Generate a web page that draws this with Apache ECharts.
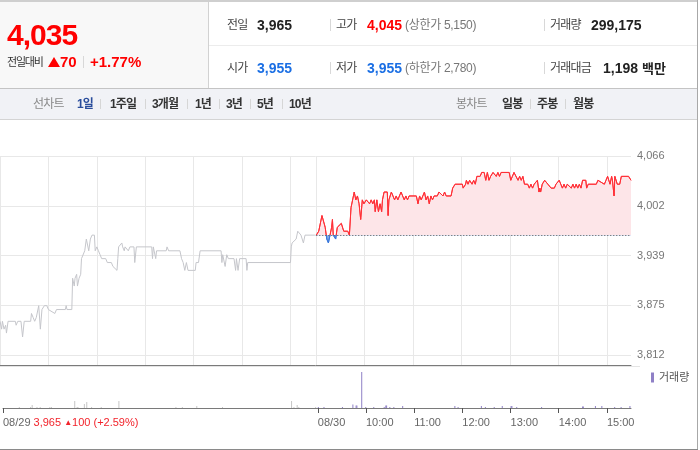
<!DOCTYPE html>
<html><head><meta charset="utf-8">
<script src="https://cdn.jsdelivr.net/npm/echarts@6/dist/echarts.min.js"></script>
<style>
body{margin:0;width:700px;height:450px;overflow:hidden;background:#fff;font-family:"Liberation Sans",Arial,"Noto Sans CJK KR",sans-serif;}
#chart{position:absolute;left:0;top:0;width:700px;height:450px;}
#hdr{position:absolute;left:0;top:0;width:700px;height:121px;z-index:2;}
.t{position:absolute;white-space:nowrap;line-height:20px;height:20px;}
.lb{font-size:12px;color:#444;letter-spacing:-0.8px;}
.v{font-size:14px;font-weight:bold;color:#222;}
.red{color:#f00;}
.blue{color:#1b6fe4;}
.pr{font-size:12px;color:#777;letter-spacing:-0.3px;}
.dv{position:absolute;width:1px;height:12px;background:#d8d8d8;}
.nv{font-size:12px;font-weight:bold;color:#333;letter-spacing:-0.8px;}
.ng{font-size:12px;color:#888;letter-spacing:-0.8px;}
.nd{position:absolute;width:1px;height:10px;background:#d6d6d6;top:99px;}
</style></head>
<body>
<div id="chart"></div>
<div id="hdr">
  <div style="position:absolute;left:0;top:0;width:698px;height:2px;background:#cfcfcf;"></div>
  <div style="position:absolute;left:0;top:2px;width:208px;height:86px;background:#f8f8f8;"></div>
  <div style="position:absolute;left:208px;top:2px;width:1px;height:86px;background:#d2d2d2;"></div>
  <div style="position:absolute;left:209px;top:45px;width:489px;height:1px;background:#ececec;"></div>
  <div style="position:absolute;left:0;top:88px;width:698px;height:1px;background:#c4c4c4;"></div>
  <div style="position:absolute;left:0;top:89px;width:698px;height:30px;background:#f1f2f6;"></div>
  <div style="position:absolute;left:0;top:119px;width:698px;height:1px;background:#d4d4d4;"></div>

  <span class="t red" style="left:7px;top:20px;font-size:30px;line-height:30px;height:30px;font-weight:bold;letter-spacing:-1px;">4,035</span>
  <span class="t" style="left:7px;top:52px;font-size:11px;color:#333;letter-spacing:-1.2px;">전일대비</span>
  <i style="position:absolute;left:48px;top:57px;width:0;height:0;border-left:6px solid transparent;border-right:6px solid transparent;border-bottom:10px solid #f00;"></i>
  <span class="t red" style="left:60px;top:52px;font-size:15px;font-weight:bold;">70</span>
  <i class="dv" style="left:83px;top:56px;"></i>
  <span class="t red" style="left:90px;top:52px;font-size:15px;font-weight:bold;">+1.77%</span>

  <span class="t lb" style="left:227px;top:15px;">전일</span>
  <span class="t v" style="left:257px;top:15px;">3,965</span>
  <i class="dv" style="left:330px;top:19px;"></i>
  <span class="t lb" style="left:336px;top:15px;">고가</span>
  <span class="t v red" style="left:367px;top:15px;">4,045</span>
  <span class="t pr" style="left:405px;top:15px;">(상한가 5,150)</span>
  <i class="dv" style="left:544px;top:19px;"></i>
  <span class="t lb" style="left:550px;top:15px;">거래량</span>
  <span class="t v" style="left:591px;top:15px;">299,175</span>

  <span class="t lb" style="left:227px;top:58px;">시가</span>
  <span class="t v blue" style="left:257px;top:58px;">3,955</span>
  <i class="dv" style="left:330px;top:62px;"></i>
  <span class="t lb" style="left:336px;top:58px;">저가</span>
  <span class="t v blue" style="left:367px;top:58px;">3,955</span>
  <span class="t pr" style="left:405px;top:58px;">(하한가 2,780)</span>
  <i class="dv" style="left:544px;top:62px;"></i>
  <span class="t lb" style="left:550px;top:58px;">거래대금</span>
  <span class="t v" style="left:603px;top:58px;">1,198 <span style="font-size:13px;">백만</span></span>

  <span class="t ng" style="left:33px;top:94px;">선차트</span>
  <span class="t nv" style="left:77px;top:94px;color:#2a4d9c;">1일</span>
  <i class="nd" style="left:100px;"></i>
  <span class="t nv" style="left:110px;top:94px;">1주일</span>
  <i class="nd" style="left:145px;"></i>
  <span class="t nv" style="left:152px;top:94px;">3개월</span>
  <i class="nd" style="left:187px;"></i>
  <span class="t nv" style="left:195px;top:94px;">1년</span>
  <i class="nd" style="left:219px;"></i>
  <span class="t nv" style="left:226px;top:94px;">3년</span>
  <i class="nd" style="left:250px;"></i>
  <span class="t nv" style="left:257px;top:94px;">5년</span>
  <i class="nd" style="left:282px;"></i>
  <span class="t nv" style="left:289px;top:94px;">10년</span>

  <span class="t ng" style="left:456px;top:94px;">봉차트</span>
  <span class="t nv" style="left:502px;top:94px;">일봉</span>
  <i class="nd" style="left:530px;"></i>
  <span class="t nv" style="left:537px;top:94px;">주봉</span>
  <i class="nd" style="left:565px;"></i>
  <span class="t nv" style="left:573px;top:94px;">월봉</span>
</div>
<div style="position:absolute;left:697px;top:0;width:1px;height:450px;background:#a8a8a8;z-index:3;"></div>
<div style="position:absolute;left:0;top:449px;width:698px;height:1px;background:#8a8a8a;z-index:3;"></div>
<script>
// ---- data ----
const prevDate = '08/29';
const todayDate = '08/30';
const prevClose = 3965;
const prevInfo = ['3,965', '100', '+2.59%'];
const yTickValues = [4066, 4002.5, 3939, 3875.5, 3812];
const yTickLabels = ['4,066', '4,002', '3,939', '3,875', '3,812'];
const xTimeLabels = ['10:00', '11:00', '12:00', '13:00', '14:00', '15:00'];

// [minute slot, price] — 08/29 (grey)
const prevLine = [[0,3855],[2,3845],[3,3855],[5,3845],[7,3850],[8,3840],[10,3855],[19,3855],[20,3850],[22,3855],[26,3855],[28,3835],[30,3855],[38,3855],[39,3865],[41,3860],[43,3855],[45,3860],[48,3875],[50,3845],[52,3870],[55,3875],[58,3875],[60,3870],[68,3865],[70,3870],[81,3870],[82,3875],[83,3870],[89,3870],[90,3910],[92,3900],[93,3910],[95,3915],[96,3900],[98,3910],[100,3915],[101,3935],[103,3935],[105,3945],[107,3960],[109,3960],[110,3945],[112,3960],[114,3965],[117,3965],[118,3945],[120,3950],[122,3945],[124,3940],[126,3935],[131,3935],[133,3930],[138,3930],[140,3925],[145,3920],[146,3935],[147,3950],[149,3950],[151,3955],[152,3950],[154,3945],[155,3950],[159,3945],[161,3950],[166,3950],[167,3930],[169,3950],[188,3950],[189,3935],[190,3950],[191,3950],[193,3935],[194,3945],[206,3945],[207,3950],[209,3945],[223,3945],[225,3935],[227,3930],[229,3920],[231,3930],[233,3920],[242,3920],[243,3930],[246,3930],[248,3945],[274,3945],[275,3930],[276,3940],[278,3940],[279,3925],[281,3940],[283,3935],[290,3935],[292,3920],[293,3935],[295,3920],[297,3935],[305,3935],[306,3920],[307,3930],[360,3930],[361,3950],[362,3955],[364,3955],[367,3960],[369,3970],[371,3970],[373,3965],[376,3955],[378,3965],[380,3965],[390,3965],[391,3965]];

// [minute slot, price] — 08/30 (today)
const todayLine = [[392,3965],[395,3970],[397,3970],[399,3990],[401,3990],[403,3975],[405,3960],[407,3955],[409,3955],[411,3975],[412,3985],[413,3965],[415,3965],[416,3960],[418,3975],[420,3975],[423,3980],[425,3980],[426,3970],[431,3970],[433,3965],[435,4000],[437,4000],[439,4020],[441,4010],[443,4015],[445,4005],[447,3985],[449,4010],[451,4005],[454,4010],[458,4005],[460,4010],[462,4005],[464,4010],[465,3995],[467,4010],[469,3995],[471,4005],[473,3995],[474,4010],[476,4020],[480,4020],[481,3990],[482,4010],[485,4020],[487,4020],[489,4010],[491,4015],[493,4010],[495,4015],[497,4020],[499,4015],[501,4010],[503,4015],[505,4010],[507,4015],[516,4015],[518,4005],[520,4015],[522,4010],[524,4015],[526,4020],[528,4010],[530,4015],[532,4005],[534,4015],[536,4010],[538,4015],[542,4015],[544,4020],[546,4020],[549,4015],[551,4020],[553,4015],[559,4015],[561,4025],[564,4030],[573,4030],[574,4025],[577,4030],[578,4035],[580,4030],[582,4035],[585,4030],[587,4035],[589,4030],[591,4040],[593,4040],[595,4040],[597,4045],[600,4045],[602,4035],[604,4045],[606,4035],[608,4040],[611,4045],[615,4040],[617,4045],[619,4040],[621,4045],[631,4045],[633,4035],[635,4040],[637,4045],[639,4045],[642,4035],[644,4040],[646,4035],[648,4040],[650,4030],[654,4030],[656,4025],[658,4030],[660,4025],[662,4030],[664,4030],[666,4035],[668,4020],[669,4025],[670,4020],[672,4030],[675,4035],[677,4035],[679,4030],[681,4030],[683,4025],[687,4025],[689,4030],[693,4035],[695,4030],[697,4025],[699,4030],[701,4025],[703,4030],[708,4025],[710,4030],[712,4025],[714,4030],[716,4025],[718,4030],[720,4025],[722,4035],[726,4035],[727,4025],[729,4030],[739,4030],[741,4035],[749,4030],[751,4035],[753,4040],[755,4040],[756,4030],[758,4040],[759,4035],[761,4015],[762,4040],[763,4040],[765,4030],[768,4030],[770,4040],[779,4040],[782,4035]];

// [minute slot, shares]
const prevVol = [[21,1400],[35,1400],[37,4500],[43,1400],[47,1400],[59,1400],[61,1400],[90,10500],[93,1400],[94,1400],[102,6000],[105,9000],[111,1400],[123,1400],[145,10500],[216,1400],[224,1400],[242,3000],[274,1400],[360,10500],[363,1400],[367,4500],[369,1400],[390,1400]];
const todayVol = [[392,1400],[399,1400],[422,1400],[435,5200],[439,3700],[440,3700],[446,54000],[451,1400],[461,1400],[474,1400],[476,3700],[477,3700],[481,1400],[486,1400],[497,3000],[562,3000],[566,1400],[595,3000],[600,1400],[611,1400],[621,3000],[632,3000],[633,3000],[639,1400],[670,1400],[721,2200],[722,2200],[737,3000],[745,3000],[761,1400],[769,1400],[780,3000]];

// ---- categories: minute slots 09:00..15:30 for each day + 1 separator slot ----
const xCats = [];
function pushDay(d) {
  for (let m = 0; m <= 390; m++) {
    const t = 540 + m;
    xCats.push(d + ' ' + String(Math.floor(t / 60)).padStart(2, '0') + ':' + String(t % 60).padStart(2, '0'));
  }
}
pushDay(prevDate); xCats.push('gap'); pushDay(todayDate);
const lastIdx = xCats.length - 1;
const todayStart = xCats.indexOf(todayDate + ' 09:00');

const isHour = v => v !== 'gap' && v.slice(-3) === ':00';
const isLabel = v => v === prevDate + ' 09:00' || v === todayDate + ' 09:00' ||
  (v.indexOf(todayDate) === 0 && xTimeLabels.indexOf(v.slice(6)) >= 0);

const FONT = "'Liberation Sans', Arial, 'Noto Sans CJK KR', sans-serif";
const yMin = yTickValues[4] - (yTickValues[0] - yTickValues[4]) * 10 / 199;
const RED = '#ff2f36', BLUE = '#3a78dc', PINK = '#fde5e8', LBLUE = '#7ea6e6';

const chart = echarts.init(document.getElementById('chart'));
const option = {
  animation: false,
  backgroundColor: '#fff',
  textStyle: { fontFamily: FONT },
  legend: {
    data: [{ name: '거래량', icon: 'rect' }],
    left: 651, top: 372, itemWidth: 3, itemHeight: 10, itemGap: 4, padding: 0,
    selectedMode: false,
    textStyle: { fontSize: 11, color: '#555', fontFamily: FONT }
  },
  grid: [
    { left: 0, top: 156, width: 631, height: 209 },
    { left: 0, top: 156, width: 631, height: 199 },
    { left: 0, top: 366, width: 631, height: 42 }
  ],
  xAxis: [
    { gridIndex: 0, type: 'category', data: xCats, boundaryGap: false,
      axisLine: { lineStyle: { color: '#7a7a7a', width: 1 } },
      axisTick: { show: false }, axisLabel: { show: false },
      splitLine: { show: true, interval: (i, v) => isHour(v), lineStyle: { color: '#e8e8e8' } } },
    { gridIndex: 1, type: 'value', show: false, min: 0, max: 1 },
    { gridIndex: 2, type: 'category', data: xCats, boundaryGap: false,
      axisLine: { lineStyle: { color: '#7a7a7a' } },
      axisTick: { show: true, interval: (i, v) => isLabel(v), length: 5, lineStyle: { color: '#555' } },
      splitLine: { show: false },
      axisLabel: {
        interval: (i, v) => isLabel(v), align: 'left', margin: 9, fontSize: 11, color: '#666',
        fontFamily: FONT,
        formatter: v => {
          if (v === prevDate + ' 09:00') return prevDate + ' {r|' + prevInfo[0] + ' }{t|▲}{r|' + prevInfo[1] + ' (' + prevInfo[2] + ')}';
          if (v === todayDate + ' 09:00') return todayDate;
          return v.slice(6);
        },
        rich: {
          r: { color: '#f2232b', fontSize: 11, fontFamily: FONT },
          t: { color: '#f2232b', fontSize: 8, fontFamily: FONT }
        }
      } }
  ],
  yAxis: [
    { gridIndex: 0, type: 'value', min: yMin, max: yTickValues[0], show: false, splitLine: { show: false } },
    { gridIndex: 1, type: 'value', position: 'right', min: yTickValues[4], max: yTickValues[0],
      interval: (yTickValues[0] - yTickValues[4]) / 4,
      axisLine: { show: false }, axisTick: { show: false },
      axisLabel: { margin: 6, fontSize: 11, color: '#777', fontFamily: FONT,
        formatter: v => {
          let best = 0;
          yTickValues.forEach((t, k) => { if (Math.abs(t - v) < Math.abs(yTickValues[best] - v)) best = k; });
          return yTickLabels[best];
        } },
      splitLine: { show: true, lineStyle: { color: '#e8e8e8' } } },
    { gridIndex: 2, type: 'value', min: 0, max: 63000, show: false, splitLine: { show: false } }
  ],
  series: [
    { name: 'prev', type: 'line', xAxisIndex: 0, yAxisIndex: 0, data: prevLine,
      symbol: 'none', silent: true, lineStyle: { color: '#c5c6cb', width: 1 }, itemStyle: { color: '#c5c6cb' } },
    { name: 'today', type: 'line', xAxisIndex: 0, yAxisIndex: 0, data: todayLine,
      symbol: 'none', silent: true, lineStyle: { width: 1, color: RED }, itemStyle: { color: RED },
      areaStyle: { origin: prevClose, color: PINK, opacity: 1 },
      markLine: { silent: true, symbol: ['none', 'none'], label: { show: false },
        lineStyle: { color: '#555', type: [1, 2], width: 1 },
        data: [[{ coord: [todayStart, prevClose] }, { coord: [lastIdx, prevClose] }]] } },
    { name: 'prevVol', type: 'bar', xAxisIndex: 2, yAxisIndex: 2, data: prevVol,
      barWidth: 1, silent: true, itemStyle: { color: '#c6c6c6' } },
    { name: '거래량', type: 'bar', xAxisIndex: 2, yAxisIndex: 2, data: todayVol,
      barWidth: 1, silent: true, itemStyle: { color: '#8f80c6' } }
  ],
  graphic: [
    { type: 'rect', shape: { x: 0, y: 366, width: 640, height: 1 }, style: { fill: '#e4e4e4' }, silent: true }
  ]
};
chart.setOption(option);
// colour split at the previous close: red/pink above, blue below
const yb = chart.convertToPixel({ yAxisIndex: 0 }, prevClose);
const f = yb / 450;
const split = (a, b) => new echarts.graphic.LinearGradient(0, 0, 0, 450, [
  { offset: 0, color: a }, { offset: f, color: a }, { offset: f, color: b }, { offset: 1, color: b }], true);
chart.setOption({ series: [{}, { lineStyle: { color: split(RED, BLUE) }, areaStyle: { color: split(PINK, LBLUE) } }] });
</script>
</body></html>
